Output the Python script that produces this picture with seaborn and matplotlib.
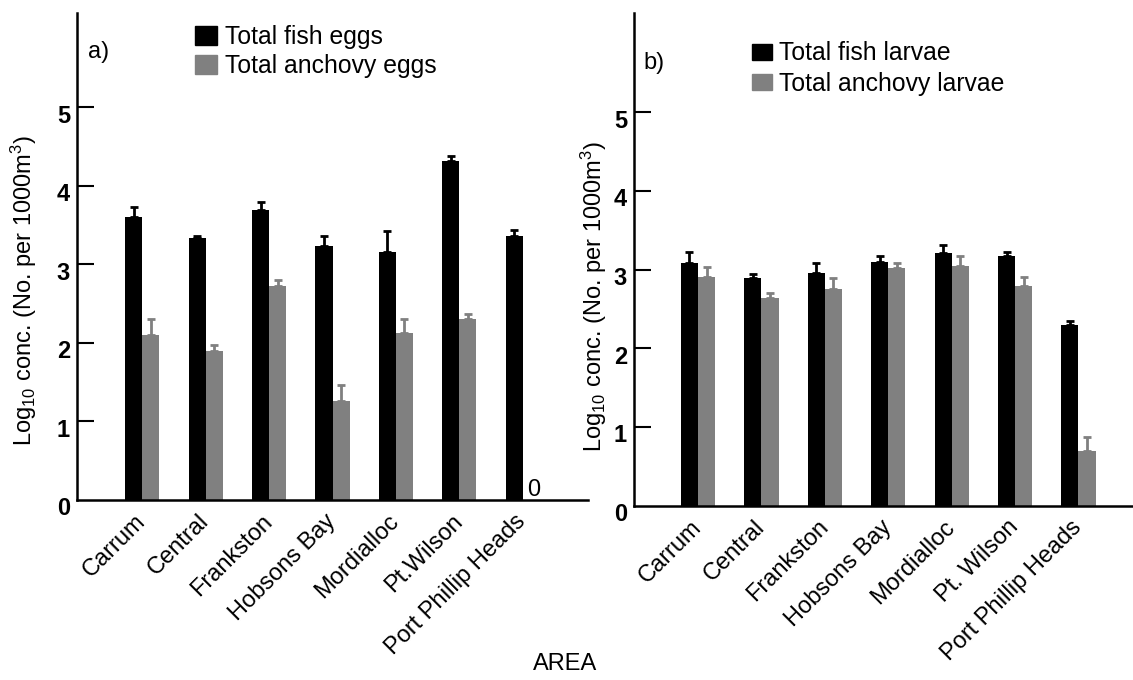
import numpy as np
import pandas as pd
import seaborn as sns
import matplotlib
matplotlib.use("Agg")
import matplotlib.pyplot as plt
from matplotlib.patches import Patch
from matplotlib.transforms import ScaledTranslation

# Sampling areas (tick labels differ slightly between panels)
areas_eggs = ["Carrum", "Central", "Frankston", "Hobsons Bay", "Mordialloc",
              "Pt.Wilson", "Port Phillip Heads"]
areas_larvae = ["Carrum", "Central", "Frankston", "Hobsons Bay", "Mordialloc",
                "Pt. Wilson", "Port Phillip Heads"]

# Panel a) eggs: log10 concentration and upper standard error
fish_eggs = [3.60, 3.34, 3.69, 3.24, 3.16, 4.32, 3.36]
fish_eggs_se = [0.13, 0.02, 0.10, 0.12, 0.27, 0.06, 0.08]
anchovy_eggs = [2.10, 1.90, 2.72, 1.26, 2.13, 2.30, 0.0]
anchovy_eggs_se = [0.20, 0.07, 0.08, 0.20, 0.18, 0.07, 0.0]

# Panel b) larvae
fish_larvae = [3.09, 2.90, 2.96, 3.10, 3.21, 3.17, 2.30]
fish_larvae_se = [0.13, 0.05, 0.12, 0.08, 0.11, 0.06, 0.05]
anchovy_larvae = [2.91, 2.64, 2.76, 3.02, 3.05, 2.79, 0.70]
anchovy_larvae_se = [0.13, 0.07, 0.14, 0.06, 0.12, 0.12, 0.17]

sns.set_style("white")
plt.rcParams["font.family"] = ["Liberation Sans", "DejaVu Sans"]
plt.rcParams["mathtext.fontset"] = "custom"
plt.rcParams["mathtext.rm"] = "Liberation Sans"
plt.rcParams["mathtext.it"] = "Liberation Sans"
plt.rcParams["mathtext.default"] = "regular"
for key in ("text.color", "axes.labelcolor", "xtick.color", "ytick.color",
            "axes.edgecolor"):
    plt.rcParams[key] = "black"

BLACK = "#000000"
GREY = "#808080"
FS = 17
LEG_FS = 17.8

fig = plt.figure(figsize=(11.33, 6.80), dpi=100)
ax_a = fig.add_axes([77 / 1133, 180 / 680, 511 / 1133, 487 / 680])
ax_b = fig.add_axes([634 / 1133, 174.3 / 680, 499 / 1133, 492.4 / 680])


def draw_panel(ax, areas, v1, e1, v2, e2, lab1, lab2, ylim_top, xlim):
    df = pd.DataFrame({
        "area": areas * 2,
        "value": list(v1) + list(v2),
        "series": [lab1] * len(areas) + [lab2] * len(areas),
    })
    sns.barplot(data=df, x="area", y="value", hue="series",
                palette=[BLACK, GREY], width=0.54, errorbar=None,
                saturation=1, linewidth=0, legend=False, ax=ax)
    # upper-only error bars on top of each bar
    for cont, err, col in zip(ax.containers, [e1, e2], [BLACK, GREY]):
        xs = [p.get_x() + p.get_width() / 2 for p in cont.patches]
        hs = [p.get_height() for p in cont.patches]
        for x, h, e in zip(xs, hs, err):
            if e > 0:
                ax.errorbar(x, h, yerr=[[0], [e]], fmt="none", ecolor=col,
                            elinewidth=2, capsize=3, capthick=2)
    ax.set_xlim(*xlim)
    ax.set_ylim(0, ylim_top)
    ax.set_yticks([0, 1, 2, 3, 4, 5])
    ax.tick_params(axis="y", left=True, direction="in", length=12, width=1.5,
                   pad=5, labelsize=FS, color=BLACK, labelcolor=BLACK)
    ax.yaxis.get_major_ticks()[0].tick1line.set_visible(False)
    for lbl in ax.get_yticklabels():
        lbl.set_fontweight("bold")
        lbl.set_transform(lbl.get_transform() +
                          ScaledTranslation(0, -4.5 / 72, fig.dpi_scale_trans))
    ax.tick_params(axis="x", length=0, pad=13, labelsize=FS,
                   labelcolor=BLACK)
    ax.set_xticks(range(len(areas)))
    ax.set_xticklabels(areas, rotation=45, ha="right", va="center",
                       rotation_mode="anchor")
    sns.despine(ax=ax)
    for s in ("left", "bottom"):
        ax.spines[s].set_linewidth(1.8)
        ax.spines[s].set_color(BLACK)
    ax.set_xlabel("")
    ax.set_ylabel(r"Log$_{10}$ conc. (No. per 1000m$^{3}$)", fontsize=FS,
                  color=BLACK)
    return ax


draw_panel(ax_a, areas_eggs, fish_eggs, fish_eggs_se, anchovy_eggs,
           anchovy_eggs_se, "Total fish eggs", "Total anchovy eggs",
           6.2, (-1.03, 7.03))
draw_panel(ax_b, areas_larvae, fish_larvae, fish_larvae_se, anchovy_larvae,
           anchovy_larvae_se, "Total fish larvae", "Total anchovy larvae",
           6.26, (-1.01, 6.86))

ax_a.yaxis.set_label_coords(-0.074, 0.43)
ax_b.yaxis.set_label_coords(-0.050, 0.424)

# mark the zero-valued bar with its value
for p, v in zip(ax_a.containers[1].patches, anchovy_eggs):
    if v == 0:
        ax_a.annotate(f"{v:g}", (p.get_x() + p.get_width() / 2, v),
                      xytext=(2, 3), textcoords="offset points",
                      ha="center", va="baseline", fontsize=FS, color=BLACK)

# legends
leg_a = ax_a.legend(handles=[Patch(color=BLACK), Patch(color=GREY)],
                    labels=["Total fish eggs", "Total anchovy eggs"],
                    loc="upper left", bbox_to_anchor=(0.231, 0.975),
                    frameon=False, fontsize=LEG_FS, handlelength=0.9,
                    handleheight=0.75, handletextpad=0.3, labelspacing=0.2,
                    borderpad=0, borderaxespad=0, labelcolor=BLACK)
leg_b = ax_b.legend(handles=[Patch(color=BLACK), Patch(color=GREY)],
                    labels=["Total fish larvae", "Total anchovy larvae"],
                    loc="upper left", bbox_to_anchor=(0.236, 0.943),
                    frameon=False, fontsize=LEG_FS, handlelength=0.8,
                    handleheight=0.6, handletextpad=0.3, labelspacing=0.25,
                    borderpad=0, borderaxespad=0, labelcolor=BLACK)

ax_a.text(0.021, 0.92, "a)", transform=ax_a.transAxes, fontsize=FS,
          ha="left", va="center", color=BLACK)
ax_b.text(0.018, 0.899, "b)", transform=ax_b.transAxes, fontsize=FS,
          ha="left", va="center", color=BLACK)

fig.text(565 / 1133, 1 - 664 / 680, "AREA", ha="center", va="center",
         fontsize=FS, color=BLACK)

fig.savefig("out.png", dpi=100)
